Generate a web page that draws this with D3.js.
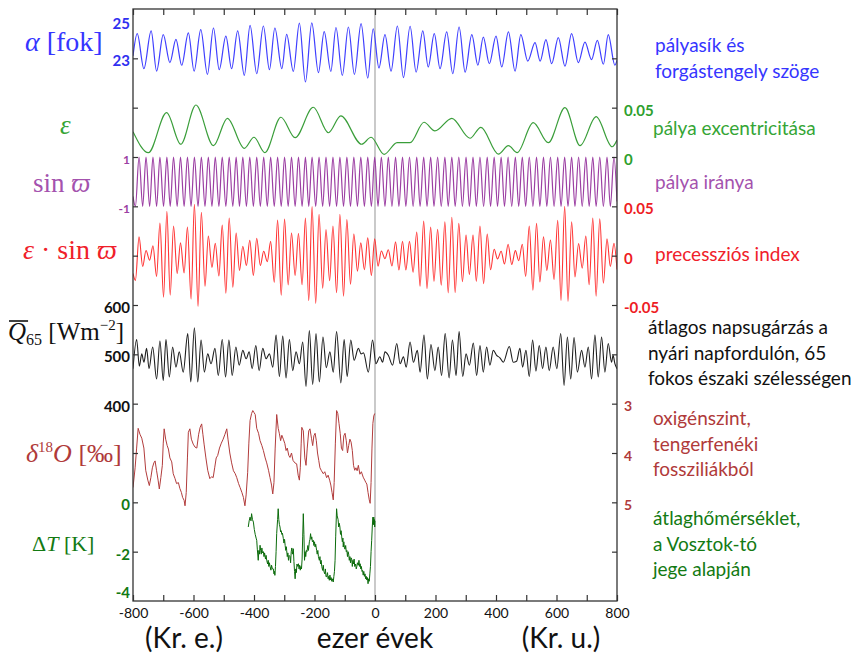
<!DOCTYPE html>
<html>
<head>
<meta charset="utf-8">
<script src="https://cdn.jsdelivr.net/npm/d3@7"></script>
<style>
body { margin: 0; background: #fff; }
svg { display: block; }
</style>
</head>
<body>
<svg id="chart" width="861" height="654"></svg>
<script>

// ---- data ----

// obliquity, degrees
let obliquity = [
[-800,23.1],[-786,24.00],[-764,22.58],[-740,24.11],[-722,22.48],[-700,23.96],[-678,22.83],[-658,23.77],[-639,22.72],
[-617,24.03],[-598,22.48],[-576,24.16],[-554,22.35],[-534,24.23],[-515,22.54],[-493,23.90],[-474,22.58],[-454,24.11],
[-432,22.31],[-413,24.34],[-391,22.38],[-369,24.31],[-349,22.54],[-331,24.23],[-308,22.58],[-292,23.97],[-270,22.47],
[-250,24.43],[-230,22.04],[-209,24.44],[-187,22.42],[-168,24.08],[-146,22.47],[-129,24.25],[-108,22.31],[-88,24.27],
[-68,22.35],[-46,24.41],[-24,22.20],[-6,24.20],[13,22.61],[33,23.96],[53,22.48],[74,24.31],[94,22.22],[116,24.30],
[136,22.44],[158,24.11],[176,22.65],[196,24.00],[215,22.58],[237,24.07],[257,22.38],[278,24.27],[298,22.44],[320,23.96],
[340,22.72],[358,23.86],[378,22.78],[400,23.90],[419,22.65],[441,24.07],[463,22.48],[482,23.96],[505,22.89],[529,23.64],
[546,22.89],[565,23.76],[584,22.78],[606,23.84],[628,22.68],[650,24.00],[672,22.83],[694,23.66],[716,22.95],[735,23.73],
[755,22.76],[771,23.96],[793,22.72],[800,22.92]
]

// eccentricity
let eccentricity = [
[-800,0.0257],[-749,0.0044],[-689,0.0449],[-642,0.0129],[-592,0.0527],[-534,0.0115],[-488,0.0392],[-432,0.0088],
[-400,0.0200],[-364,0.0044],[-311,0.0403],[-264,0.0196],[-204,0.0504],[-154,0.0246],[-113,0.0416],[-44,0.0129],
[-13,0.0200],[30,0.0027],[73,0.0145],[116,0.0145],[162,0.0352],[198,0.0264],[254,0.0392],[314,0.0190],[350,0.0301],
[408,0.0030],[441,0.0115],[470,0.0044],[523,0.0348],[573,0.0145],[628,0.0500],[678,0.0115],[731,0.0409],[784,0.0104],
[800,0.0172]
]

// turning points of sin(varpi) and of the precession index share these times
let precTimes = [
-800,-792,-780,-768,-757,-745,-734,-722,-711,-699,-688,-677,-666,-654,-643,-631,-620,-608,-597,-585,
-574,-562,-551,-539,-528,-516,-505,-493,-482,-470,-459,-448,-437,-425,-414,-402,-391,-379,-368,-356,
-345,-333,-322,-310,-299,-287,-276,-264,-253,-241,-230,-219,-208,-196,-185,-173,-162,-150,-139,-127,
-116,-104,-93,-81,-70,-58,-47,-35,-24,-12,-1,10,21,33,44,56,68,79,91,102,
114,126,138,149,161,172,184,195,207,219,231,242,254,265,277,289,301,312,324,335,
347,359,371,382,394,405,417,428,440,452,464,475,487,498,510,522,534,545,557,568,
580,592,604,615,627,638,650,661,673,685,697,708,720,731,743,755,767,778,790,800
]

let sinOmega = [
-0.6,-1,1,-1,1,-1,1,-1,1,-1,1,-1,1,-1,1,-1,1,-1,1,-1,
1,-1,1,-1,1,-1,1,-1,1,-1,1,-1,1,-1,1,-1,1,-1,1,-1,
1,-1,1,-1,1,-1,1,-1,1,-1,1,-1,1,-1,1,-1,1,-1,1,-1,
1,-1,1,-1,1,-1,1,-1,1,-1,1,-1,1,-1,1,-1,1,-1,1,-1,
1,-1,1,-1,1,-1,1,-1,1,-1,1,-1,1,-1,1,-1,1,-1,1,-1,
1,-1,1,-1,1,-1,1,-1,1,-1,1,-1,1,-1,1,-1,1,-1,1,-1,
1,-1,1,-1,1,-1,1,-1,1,-1,1,-1,1,-1,1,-1,1,-1,1,-0.8
]

let precIndex = [
-0.018,-0.025,0.019,-0.011,0.0053,-0.0045,0.010,-0.021,0.033,-0.042,0.045,-0.040,0.030,-0.018,0.013,-0.0174,0.029,-0.044,0.052,-0.0515,
0.044,-0.031,0.020,-0.012,0.0126,-0.0206,0.031,-0.038,0.038,-0.032,0.023,-0.015,0.0095,-0.010,0.0156,-0.020,0.0177,-0.010,0.0045,-0.006,
0.0145,-0.027,0.036,-0.040,0.037,-0.0296,0.023,-0.020,0.0224,-0.0295,0.038,-0.0456,0.0497,-0.0485,0.042,-0.033,0.0265,-0.0254,0.030,-0.0376,
0.042,-0.041,0.0365,-0.029,0.022,-0.0157,0.013,-0.0143,0.018,-0.020,0.017,-0.0106,0.0047,-0.0031,0.006,-0.0105,0.014,-0.0145,0.0145,-0.0145,
0.0145,-0.0168,0.024,-0.031,0.035,-0.0334,0.029,-0.026,0.0268,-0.030,0.0343,-0.0377,0.039,-0.0374,0.0327,-0.0264,0.021,-0.019,0.021,-0.026,
0.030,-0.0284,0.022,-0.0143,0.0065,-0.0033,0.0045,-0.0085,0.0115,-0.009,0.0051,-0.0051,0.0116,-0.021,0.030,-0.035,0.0327,-0.0267,0.0192,-0.015,
0.0159,-0.024,0.0358,-0.0454,0.050,-0.0463,0.0344,-0.0215,0.0124,-0.0127,0.020,-0.0295,0.038,-0.041,0.0373,-0.028,0.017,-0.011,0.0125,-0.014
]

// mean insolation at summer solstice, 65N, W/m2
let insolation = [
[-800,471],[-788,530],[-779,476],[-771,501],[-764,484],[-755,512],[-747,471],[-735,515],[-722,450],[-711,527],
[-700,447],[-691,530],[-680,454],[-669,515],[-658,474],[-647,505],[-634,464],[-619,542],[-609,444],[-597,554],
[-586,444],[-575,529],[-564,464],[-553,501],[-542,481],[-529,512],[-518,457],[-505,530],[-494,454],[-483,529],
[-472,457],[-460,515],[-449,478],[-437,508],[-426,491],[-416,505],[-406,471],[-394,518],[-383,467],[-371,512],
[-360,491],[-349,501],[-338,474],[-327,539],[-316,455],[-305,537],[-294,452],[-283,530],[-272,467],[-261,505],
[-250,481],[-239,525],[-228,435],[-217,548],[-206,439],[-195,542],[-184,444],[-172,535],[-161,473],[-149,505],
[-138,464],[-127,546],[-113,442],[-102,530],[-92,455],[-80,529],[-69,488],[-55,512],[-46,501],[-38,503],
[-22,464],[-8,529],[3,481],[16,495],[25,484],[33,505],[44,498],[58,478],[72,522],[83,481],
[94,495],[103,474],[116,525],[127,484],[140,508],[149,464],[162,539],[173,450],[185,520],[198,467],
[209,515],[220,457],[232,542],[245,452],[256,529],[268,457],[278,546],[290,455],[301,501],[312,478],
[325,523],[336,457],[347,518],[358,464],[369,515],[380,478],[391,508],[402,498],[413,493],[424,484],
[444,516],[457,484],[468,486],[479,512],[488,474],[499,508],[510,455],[521,529],[532,466],[543,518],
[554,471],[565,515],[576,467],[589,515],[601,471],[614,542],[625,437],[636,535],[647,450],[658,534],
[669,464],[683,508],[694,474],[705,515],[716,450],[727,539],[738,454],[749,535],[760,464],[771,522],
[782,484],[787,498],[793,481],[800,471]
]

// benthic delta 18O, per mil
let delta18O = [
[-800,4.70],[-793,4.30],[-788,3.90],[-783,3.50],[-777,3.62],[-771,3.70],[-764,3.90],[-758,4.35],[-751,4.55],[-746,4.66],
[-741,4.50],[-736,4.30],[-731,4.20],[-727,4.16],[-722,4.36],[-717,4.55],[-713,4.73],[-708,4.50],[-703,4.25],[-700,3.80],
[-697,3.51],[-692,3.72],[-687,3.85],[-683,3.92],[-678,4.10],[-672,4.18],[-667,4.42],[-661,4.52],[-656,4.62],[-650,4.60],
[-645,4.72],[-640,4.80],[-636,4.90],[-631,4.96],[-628,5.07],[-624,4.80],[-620,4.10],[-617,3.58],[-612,3.51],[-607,3.72],
[-601,3.82],[-595,3.88],[-589,3.90],[-583,3.62],[-578,3.48],[-573,3.41],[-569,3.62],[-565,3.82],[-559,4.10],[-553,4.35],
[-546,4.52],[-540,4.48],[-535,4.50],[-530,4.30],[-525,4.10],[-520,4.05],[-514,3.90],[-508,3.80],[-502,3.72],[-496,3.62],
[-490,3.51],[-486,3.72],[-480,4.00],[-474,4.20],[-468,4.36],[-462,4.42],[-457,4.50],[-451,4.62],[-446,4.70],[-440,4.80],
[-435,4.90],[-430,5.07],[-426,4.85],[-421,4.40],[-417,3.80],[-413,3.34],[-408,3.20],[-404,3.14],[-400,3.18],[-396,3.22],
[-391,3.50],[-385,3.60],[-380,3.75],[-374,3.85],[-369,3.95],[-363,4.10],[-358,4.20],[-352,4.35],[-347,4.50],[-342,4.65],
[-338,4.83],[-334,4.60],[-330,3.90],[-325,3.22],[-320,3.50],[-316,3.61],[-312,3.75],[-308,3.64],[-303,3.72],[-298,3.81],
[-294,3.95],[-290,3.90],[-285,4.05],[-281,4.09],[-276,4.00],[-271,4.15],[-265,4.20],[-259,4.22],[-254,4.45],[-250,4.55],
[-247,4.30],[-244,3.80],[-242,3.48],[-237,3.55],[-232,4.10],[-228,4.25],[-224,3.90],[-219,3.55],[-215,3.51],[-210,3.70],
[-206,3.85],[-202,3.65],[-198,3.60],[-194,3.75],[-190,4.00],[-186,4.15],[-182,4.30],[-177,4.36],[-171,4.42],[-166,4.38],
[-160,4.50],[-155,4.45],[-150,4.55],[-146,4.65],[-142,4.80],[-138,4.95],[-135,4.60],[-131,3.80],[-127,3.14],[-123,3.20],
[-119,3.40],[-115,3.60],[-111,3.90],[-107,3.95],[-103,3.65],[-99,3.60],[-95,3.75],[-91,4.00],[-87,3.85],[-83,3.72],
[-79,3.78],[-75,3.95],[-71,4.25],[-67,4.35],[-63,4.30],[-59,4.36],[-55,4.25],[-50,4.43],[-45,4.38],[-39,4.49],
[-34,4.55],[-30,4.60],[-27,4.63],[-23,4.80],[-19,4.95],[-16,5.02],[-13,4.60],[-10,3.90],[-7,3.40],[-4,3.25],[-1,3.20]
]

// Vostok temperature anomaly, K
let vostok = [
[-419,-1.0],[-416,-0.75],[-413,-0.6],[-410,-0.75],[-408,-0.46],[-405,-0.7],[-402,-0.8],[-399,-1.1],[-396,-1.3],[-393,-1.45],
[-391,-1.54],[-389,-1.9],[-386,-2.35],[-384,-1.95],[-382,-2.1],[-380,-1.74],[-378,-1.95],[-376,-2.1],[-374,-1.85],[-372,-2.05],
[-369,-2.0],[-367,-2.2],[-365,-2.05],[-362,-2.3],[-360,-2.15],[-358,-2.35],[-355,-2.5],[-353,-2.35],[-351,-2.6],[-349,-2.45],
[-347,-2.6],[-344,-2.75],[-342,-2.55],[-339,-2.7],[-336,-2.7],[-334,-2.9],[-332,-2.8],[-331,-2.96],[-329,-2.6],[-327,-2.0],
[-325,-1.26],[-322,-0.7],[-320,-0.26],[-318,-0.7],[-316,-0.9],[-314,-1.0],[-312,-1.2],[-310,-1.15],[-308,-1.3],[-306,-1.25],
[-303,-1.47],[-301,-1.65],[-299,-1.5],[-297,-1.75],[-295,-1.95],[-293,-1.8],[-292,-1.95],[-290,-2.2],[-288,-2.05],[-286,-2.35],
[-284,-2.15],[-281,-2.2],[-279,-2.45],[-277,-2.0],[-275,-1.85],[-273,-2.1],[-270,-1.88],[-268,-2.4],[-266,-2.8],[-264,-3.1],
[-262,-2.7],[-260,-2.85],[-258,-2.5],[-255,-2.6],[-253,-2.49],[-251,-2.7],[-249,-2.55],[-247,-2.75],[-245,-2.6],[-243,-2.7],
[-241,-2.3],[-239,-1.4],[-237,-0.46],[-235,-1.3],[-233,-2.35],[-231,-2.0],[-229,-2.2],[-227,-1.95],[-225,-2.0],[-222,-1.75],
[-220,-1.95],[-217,-1.6],[-215,-1.5],[-213,-1.27],[-211,-1.5],[-209,-1.4],[-207,-1.6],[-204,-1.54],[-202,-1.75],[-200,-1.6],
[-198,-1.81],[-196,-1.7],[-193,-1.95],[-191,-2.1],[-189,-1.95],[-187,-2.2],[-184,-2.35],[-182,-2.2],[-180,-2.5],[-178,-2.35],
[-176,-2.6],[-173,-2.76],[-171,-2.55],[-169,-2.8],[-166,-2.9],[-164,-2.7],[-162,-3.0],[-160,-3.03],[-157,-2.85],[-155,-3.1],
[-153,-3.0],[-151,-3.16],[-149,-2.95],[-147,-3.15],[-145,-3.05],[-143,-3.2],[-141,-3.1],[-138,-3.23],[-136,-3.0],[-134,-2.8],
[-132,-2.35],[-130,-1.4],[-127,-0.26],[-125,-0.55],[-122,-0.7],[-120,-1.0],[-118,-0.85],[-116,-1.0],[-114,-1.3],[-112,-1.15],
[-110,-1.4],[-108,-1.6],[-106,-1.45],[-105,-1.81],[-103,-1.6],[-101,-1.85],[-99,-1.9],[-97,-1.75],[-95,-2.0],[-93,-1.95],
[-91,-2.2],[-89,-2.0],[-87,-2.1],[-85,-2.35],[-83,-2.2],[-81,-2.45],[-79,-2.25],[-77,-2.3],[-75,-2.6],[-73,-2.35],
[-71,-2.5],[-69,-2.3],[-67,-2.6],[-64,-2.5],[-62,-2.7],[-60,-2.6],[-58,-2.45],[-55,-2.55],[-53,-2.35],[-51,-2.6],
[-49,-2.49],[-47,-2.7],[-45,-2.6],[-43,-2.8],[-41,-2.76],[-39,-2.95],[-37,-2.8],[-35,-3.0],[-33,-2.9],[-31,-3.1],
[-29,-3.0],[-27,-3.15],[-25,-3.05],[-23,-3.3],[-21,-3.1],[-19,-3.2],[-17,-2.9],[-15,-2.6],[-13,-2.0],[-11,-1.54],
[-9,-1.0],[-7,-0.6],[-5,-0.9],[-4,-0.6],[-3,-0.9],[-2,-0.7],[-1,-1.0],[0,-0.75]
]

// tick labels
let xTicks = d3.range(-800, 801, 100)
let oblTicks = [25, 23]
let eccTicks = [0.05, 0]
let sinTicks = [1, -1]
let precTicks = [0.05, 0, -0.05]
let qTicks = [600, 500, 400]
let o18Ticks = [3, 4, 5]
let tempTicks = [0, -2, -4]

// right-hand captions
let capObl = ["pályasík és", "forgástengely szöge"]
let capEcc = ["pálya excentricitása"]
let capSin = ["pálya iránya"]
let capPrec = ["precessziós index"]
let capQ = ["átlagos napsugárzás a", "nyári napfordulón, 65", "fokos északi szélességen"]
let capO18 = ["oxigénszint,", "tengerfenéki", "fossziliákból"]
let capTemp = ["átlaghőmérséklet,", "a Vosztok-tó", "jege alapján"]

// bottom captions
let bottomCaps = ["(Kr. e.)", "ezer évek", "(Kr. u.)"]


// ---- scales ----
let svg = d3.select('#chart')

let pLeft = 133, pRight = 617, pTop = 9, pBottom = 601

let x = d3.scaleLinear().domain([-800, 800]).range([pLeft, pRight])
let yGrid = d3.scaleLinear().domain([0, 12]).range([pTop, pBottom])

let yObl = d3.scaleLinear().domain([25, 23]).range([yGrid(0), yGrid(1)])
let yEcc = d3.scaleLinear().domain([0.05, 0]).range([yGrid(2), yGrid(3)])
let ySin = d3.scaleLinear().domain([1, -1]).range([yGrid(3), yGrid(4)])
let yPrec = d3.scaleLinear().domain([0.05, -0.05]).range([yGrid(4), yGrid(6)])
let yQ = d3.scaleLinear().domain([600, 400]).range([yGrid(6), yGrid(8)])
let yO18 = d3.scaleLinear().domain([3, 5]).range([yGrid(8), yGrid(10)])
let yTemp = d3.scaleLinear().domain([0, -4]).range([yGrid(10), yGrid(12)])

let tickFont = 'Lato, "Open Sans", sans-serif'
let mathFont = '"Liberation Serif", "DejaVu Serif", serif'

svg.append('rect').attr('width', 861).attr('height', 654).attr('fill', 'white')

svg.append('defs').append('clipPath').attr('id', 'plotclip')
.append('rect')
.attr('x', pLeft).attr('y', pTop)
.attr('width', pRight - pLeft).attr('height', pBottom - pTop)

// zero line
svg.append('line')
.attr('x1', x(0)).attr('x2', x(0))
.attr('y1', pTop).attr('y2', pBottom)
.attr('stroke', '#c4c4c4')
.attr('stroke-width', 1.8)

let plot = svg.append('g').attr('clip-path', 'url(#plotclip)')

function drawSeries(data, yScale, color, curve, width){
  plot.append('path')
  .datum(data)
  .attr('fill', 'none')
  .attr('stroke', color)
  .attr('stroke-width', width)
  .attr('stroke-linejoin', 'round')
  .attr('d', d3.line().x(d => x(d[0])).y(d => yScale(d[1])).curve(curve))
}

drawSeries(obliquity, yObl, '#3f3fff', d3.curveMonotoneX, 1.2)
drawSeries(eccentricity, yEcc, '#3a9e3a', d3.curveMonotoneX, 1.2)
drawSeries(precTimes.map((t, i) => [t, sinOmega[i]]), ySin, '#9c3fa3', d3.curveMonotoneX, 1.2)
drawSeries(precTimes.map((t, i) => [t, precIndex[i]]), yPrec, '#ff3434', d3.curveMonotoneX, 1.1)
drawSeries(insolation, yQ, '#1e1e1e', d3.curveMonotoneX, 1.1)
drawSeries(delta18O, yO18, '#b23c3c', d3.curveLinear, 1)
drawSeries(vostok, yTemp, '#0b6b0b', d3.curveLinear, 1)


// ---- frame and axes ----
svg.append('rect')
.attr('x', pLeft).attr('y', pTop)
.attr('width', pRight - pLeft).attr('height', pBottom - pTop)
.attr('fill', 'none')
.attr('stroke', '#333')
.attr('stroke-width', 1.3)

let axisStyle = g => {
  g.select('.domain').remove()
  g.selectAll('line').attr('stroke', '#333').attr('stroke-width', 1.2)
  g.selectAll('text').filter(function(){ return this.textContent == '' }).remove()
}

svg.append('g')
.attr('transform', `translate(0,${pBottom})`)
.call(d3.axisBottom(x).tickValues(xTicks).tickSize(-6).tickPadding(7)
  .tickFormat(d => d % 200 == 0 ? d : ''))
.call(axisStyle)
.call(g => g.selectAll('text')
  .attr('font-family', tickFont)
  .attr('font-size', 14)
  .attr('fill', '#111'))

svg.append('g')
.attr('transform', `translate(0,${pTop})`)
.call(d3.axisTop(x).tickValues(xTicks).tickSize(-6).tickFormat(''))
.call(axisStyle)

svg.append('g')
.attr('transform', `translate(${pLeft},0)`)
.call(d3.axisLeft(yGrid).tickValues(d3.range(1, 12)).tickSize(-5).tickFormat(''))
.call(axisStyle)

svg.append('g')
.attr('transform', `translate(${pRight},0)`)
.call(d3.axisRight(yGrid).tickValues(d3.range(1, 12)).tickSize(-5).tickFormat(''))
.call(axisStyle)


// ---- tick labels ----
function tickLabels(values, yScale, color, side, size){
  svg.append('g')
  .selectAll('text')
  .data(values)
  .join('text')
  .attr('x', side == 'left' ? pLeft - 3 : pRight + 7)
  .attr('y', d => Math.min(Math.max(yScale(d), pTop + 12), pBottom - 11) + 4)
  .attr('text-anchor', side == 'left' ? 'end' : 'start')
  .attr('dominant-baseline', 'middle')
  .attr('font-family', tickFont)
  .attr('font-weight', 'bold')
  .attr('font-size', size)
  .attr('fill', color)
  .text(d => d)
}

tickLabels(oblTicks, yObl, '#3030f0', 'left', 15)
tickLabels(sinTicks, ySin, '#9c3fa3', 'left', 12)
tickLabels(qTicks, yQ, '#111', 'left', 15)
tickLabels(tempTicks, yTemp, '#137a13', 'left', 15)
tickLabels(eccTicks, yEcc, '#2ea02e', 'right', 15)
tickLabels(precTicks, yPrec, '#ee1c24', 'right', 15)
tickLabels(o18Ticks, yO18, '#b03a3a', 'right', 14)


// ---- left math labels ----
function mathLabel(xp, yp, color, size, parts){
  let t = svg.append('text')
  .attr('x', xp).attr('y', yp)
  .attr('font-family', mathFont)
  .attr('font-size', size)
  .attr('fill', color)
  parts.forEach(p => {
    let s = t.append('tspan').text(p.s)
    if (p.i) s.attr('font-style', 'italic')
    if (p.size) s.attr('font-size', p.size)
    if (p.dy) s.attr('dy', p.dy)
  })
  return t
}

mathLabel(25, 51, '#3535ff', 28, [{s: 'α', i: 1}, {s: ' [fok]'}])
mathLabel(60, 134, '#35a535', 27, [{s: 'ε', i: 1}])
mathLabel(33, 192, '#a452ae', 27, [{s: 'sin '}, {s: 'ϖ', i: 1}])
mathLabel(23, 259, '#f0202a', 28, [{s: 'ε', i: 1}, {s: ' · sin '}, {s: 'ϖ', i: 1}])

let qLab = mathLabel(8, 340, '#111', 25, [
  {s: 'Q', i: 1}, {s: '65', size: 16, dy: 5}, {s: ' [Wm', dy: -5},
  {s: '−2', size: 15, dy: -10}, {s: ']', dy: 10}])
let qW = qLab.select('tspan').node().getComputedTextLength()
svg.append('line')
.attr('x1', 9).attr('x2', 8 + qW + 2)
.attr('y1', 321).attr('y2', 321)
.attr('stroke', '#111').attr('stroke-width', 1.6)

mathLabel(26, 462, '#b03a3a', 26, [{s: 'δ', i: 1}, {s: '18', size: 15, dy: -10}, {s: 'O', i: 1, dy: 10}, {s: ' [‰]'}])
mathLabel(32, 551, '#137a13', 22, [{s: 'Δ'}, {s: 'T', i: 1}, {s: ' [K]'}])


// ---- right captions ----
function caption(lines, xp, yp, color){
  svg.append('g')
  .selectAll('text')
  .data(lines)
  .join('text')
  .attr('x', xp)
  .attr('y', (d, i) => yp + i * 25.5)
  .attr('font-family', tickFont)
  .attr('font-size', 19)
  .attr('fill', color)
  .text(d => d)
}

caption(capObl, 655, 52, '#3535ff')
caption(capEcc, 653, 135, '#35a535')
caption(capSin, 655, 189, '#a452ae')
caption(capPrec, 655, 261, '#f0202a')
caption(capQ, 648, 334, '#111')
caption(capO18, 653, 425, '#b03a3a')
caption(capTemp, 653, 525, '#137a13')


// ---- bottom captions ----
svg.append('g')
.selectAll('text')
.data(bottomCaps)
.join('text')
.attr('x', (d, i) => [184, 375, 561][i])
.attr('y', 648)
.attr('text-anchor', 'middle')
.attr('font-family', tickFont)
.attr('font-size', 28)
.attr('fill', '#111')
.text(d => d)

</script>
</body>
</html>
